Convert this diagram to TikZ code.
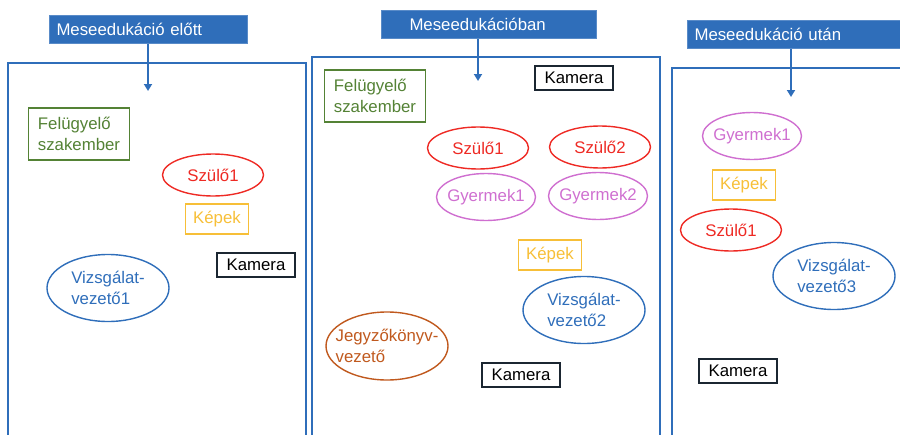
\documentclass[tikz,border=0pt]{standalone}
\usepackage{fontspec}
\setmainfont{Liberation Sans}
\usetikzlibrary{shapes.geometric,arrows.meta}
\definecolor{mblue}{HTML}{2F6EBA}
\definecolor{mgreen}{HTML}{548235}
\definecolor{mred}{HTML}{EE2A24}
\definecolor{mpink}{HTML}{CF6FD0}
\definecolor{myellow}{HTML}{F7BF38}
\definecolor{mbrown}{HTML}{C0591E}
\definecolor{mdark}{HTML}{1B2631}
\tikzset{
  lbl/.style={font=\fontsize{16.8}{21}\selectfont, align=left},
  pbox/.style={lbl, draw, rectangle, line width=1.6pt, inner sep=0pt},
  pell/.style={lbl, draw, ellipse, line width=1.4pt, inner xsep=-14pt, inner ysep=-8pt},
  titlebox/.style={lbl, fill=mblue, draw=mblue!80!white, text=white, line width=1pt,
    anchor=north west, minimum height=28pt, inner xsep=7pt, inner ysep=0pt},
  frame/.style={draw=mblue, line width=1.8pt},
  arr/.style={mblue, line width=2pt, -{Triangle[length=7pt,width=8pt]}},
  kambox/.style={pbox, draw=mdark, text=black, minimum width=78pt, minimum height=24pt},
  kepbox/.style={pbox, draw=myellow, text=myellow, minimum width=63pt, minimum height=30pt},
  felbox/.style={pbox, draw=mgreen, text=mgreen, minimum width=101pt, minimum height=52pt},
  szulo/.style={pell, draw=mred, text=mred, minimum width=101pt, minimum height=42pt},
  gyerek/.style={pell, draw=mpink, text=mpink, minimum width=99pt, minimum height=47pt},
  vizsg/.style={pell, draw=mblue, text=mblue, minimum width=122pt, minimum height=67pt},
}
\begin{document}
\begin{tikzpicture}[x=1pt,y=-1pt]
\useasboundingbox (0,0) rectangle (900,434);
% frames
\draw[frame] (8,440) -- (8,63) -- (306,63) -- (306,440);
\draw[frame] (312,440) -- (312,57) -- (660,57) -- (660,440);
\draw[frame] (672,440) -- (672,68) -- (910,68);
% titles
\node[titlebox, text width=184pt] (t1) at (49,15) {Meseedukáció előtt};
\node[titlebox, text width=201pt] (t2) at (381,10) {\hspace*{21pt}Meseedukációban};
\node[titlebox, text width=210pt] (t3) at (687,20) {Meseedukáció után};
\coordinate (a1) at (148,91);
\coordinate (a2) at (478,81);
\coordinate (a3) at (791,97);
\draw[arr] (t1.south -| a1) -- (a1);
\draw[arr] (t2.south -| a2) -- (a2);
\draw[arr] (t3.south -| a3) -- (a3);
% elotte
\node[felbox] (fel1) at (79,134) {Felügyelő\\szakember};
\node[szulo] (sz11) at (213,175) {Szülő1};
\node[kepbox] (kep1) at (217,219) {Képek};
\node[kambox] (kam1) at (256,265) {Kamera};
\node[vizsg] (viz1) at (108,288) {Vizsgálat-\\vezető1};
% kozben
\node[felbox] (fel2) at (375,96) {Felügyelő\\szakember};
\node[kambox] (kam2) at (574,78) {Kamera};
\node[szulo] (sz21) at (478,148) {Szülő1};
\node[szulo] (sz22) at (600,147) {Szülő2};
\node[gyerek] (gy21) at (486,197) {Gyermek1};
\node[gyerek] (gy22) at (598,196) {Gyermek2};
\node[kepbox] (kep2) at (550,255) {Képek};
\node[vizsg] (viz2) at (584,310) {Vizsgálat-\\vezető2};
\node[vizsg, draw=mbrown, text=mbrown, minimum height=68pt] (jegy) at (387,346) {Jegyzőkönyv-\\vezető};
\node[kambox] (kam3) at (521,375) {Kamera};
% utana
\node[gyerek] (gy31) at (752,136) {Gyermek1};
\node[kepbox] (kep3) at (744,185) {Képek};
\node[szulo] (sz31) at (731,230) {Szülő1};
\node[vizsg] (viz3) at (834,276) {Vizsgálat-\\vezető3};
\node[kambox] (kam4) at (738,371) {Kamera};
\end{tikzpicture}
\end{document}
